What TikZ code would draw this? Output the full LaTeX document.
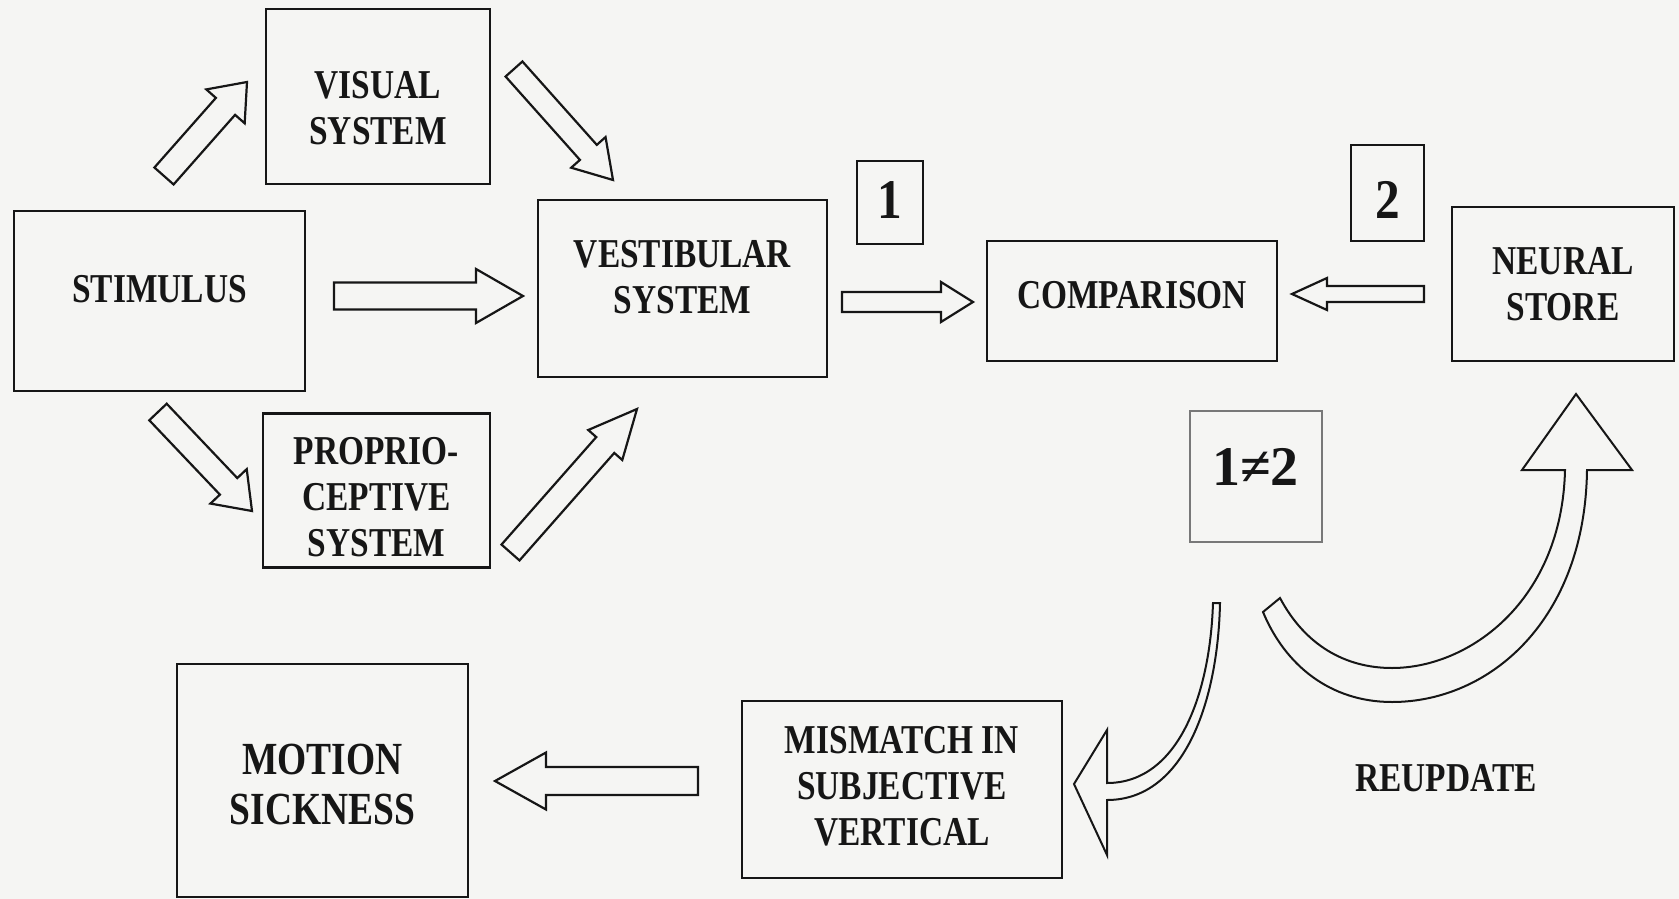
\documentclass[tikz,border=0pt]{standalone}
\usepackage{fontspec}
\newfontfamily\lbl[FakeStretch=0.815]{Liberation Serif}
\newfontfamily\numf[FakeStretch=0.88]{Liberation Serif}
\newfontfamily\numw{Liberation Serif}
\usetikzlibrary{calc}
\definecolor{paper}{RGB}{245,245,243}
\definecolor{ink}{RGB}{22,22,22}
\definecolor{lightink}{RGB}{120,120,120}
\tikzset{
  box/.style={draw=ink, line width=2.6pt, rectangle, inner sep=0pt},
  lab/.style={text=ink, align=center, inner sep=0pt, font=\lbl\bfseries\fontsize{41}{46}\selectfont},
  numlab/.style={lab, font=\numf\bfseries\fontsize{56}{60}\selectfont},
  neqlab/.style={lab, font=\numw\bfseries\fontsize{56}{60}\selectfont},
  biglab/.style={lab, font=\lbl\bfseries\fontsize{46}{50}\selectfont},
  blk/.style={draw=ink, line width=2.2pt, fill=paper, line join=miter},
  curv/.style={draw=ink, line width=2pt, fill=paper, line join=miter},
}
% tail, tip, shaft half width, head half width, head length
\newcommand{\blockarrow}[5]{%
  \coordinate (bh) at ($(#2)!#5!(#1)$);
  \draw[blk] ($(#1)!#3!90:(#2)$) -- ($(bh)!#3!-90:(#1)$) -- ($(bh)!#4!-90:(#1)$) -- (#2)
     -- ($(bh)!#4!90:(#1)$) -- ($(bh)!#3!90:(#1)$) -- ($(#1)!#3!-90:(#2)$) -- cycle;
}
\begin{document}
\begin{tikzpicture}[x=1pt,y=-1pt]
\fill[paper] (0,0) rectangle (1679,899);
\useasboundingbox (0,0) rectangle (1679,899);

% boxes
\node[box, minimum width=224pt, minimum height=175pt] (visual) at (378,96.5) {};
\node[box, minimum width=291pt, minimum height=180pt] (stim) at (159.5,301) {};
\node[box, minimum width=289pt, minimum height=177pt] (vest) at (682.5,288.5) {};
\node[box, minimum width=227pt, minimum height=154pt] (prop) at (376.5,490.5) {};
\node[box, minimum width=66pt, minimum height=83pt] (one) at (890,202.5) {};
\node[box, minimum width=290pt, minimum height=120pt] (comp) at (1132,301) {};
\node[box, minimum width=73pt, minimum height=96pt] (two) at (1387.5,193) {};
\node[box, minimum width=222pt, minimum height=154pt] (neural) at (1563,284) {};
\node[box, draw=lightink, line width=2pt, minimum width=132pt, minimum height=131pt] (neq) at (1255.5,476) {};
\node[box, minimum width=291pt, minimum height=233pt] (motion) at (322.5,780.5) {};
\node[box, minimum width=320pt, minimum height=177pt] (mism) at (902,789.5) {};

% texts
\node[lab] (visualT) at ($(visual.center)+(0,12)$) {VISUAL\\SYSTEM};
\node[lab] (stimT) at ($(stim.center)+(0,-12)$) {STIMULUS};
\node[lab] (vestT) at ($(vest.center)+(0,-11)$) {VESTIBULAR\\SYSTEM};
\node[lab] (propT) at ($(prop.center)+(0,7)$) {PROPRIO-\\CEPTIVE\\SYSTEM};
\node[numlab] (oneT) at ($(one.center)+(0,-2)$) {1};
\node[lab] (compT) at ($(comp.center)+(0,-6)$) {COMPARISON};
\node[numlab] (twoT) at ($(two.center)+(0,7)$) {2};
\node[lab] (neuralT) at (neural.center) {NEURAL\\STORE};
\node[neqlab] (neqT) at ($(neq.center)+(0,-9)$) {1≠2};
\node[biglab] (motionT) at ($(motion.center)+(0,4)$) {MOTION\\SICKNESS};
\node[lab] (mismT) at ($(mism.center)+(0,-3)$) {MISMATCH IN\\SUBJECTIVE\\VERTICAL};
\node[lab] (reupd) at (1446,778) {REUPDATE};

% arrow end points
\coordinate (a1t) at (164,176);   \coordinate (a1h) at (247,82);
\coordinate (a2t) at (514,69);    \coordinate (a2h) at (613,180);
\coordinate (a3t) at (334,296);   \coordinate (a3h) at (523,296);
\coordinate (a4t) at (842,302);   \coordinate (a4h) at (973,302);
\coordinate (a5t) at (158,412);   \coordinate (a5h) at (252,511);
\coordinate (a6t) at (510.5,552.5); \coordinate (a6h) at (637,409);
\coordinate (a7t) at (1424,294);  \coordinate (a7h) at (1292,294);
\coordinate (a8t) at (698,781);   \coordinate (a8h) at (495,781);

\blockarrow{a1t}{a1h}{12.8pt}{25.6pt}{32.5pt}
\blockarrow{a2t}{a2h}{11.3pt}{23pt}{37pt}
\blockarrow{a3t}{a3h}{13.5pt}{27pt}{47pt}
\blockarrow{a4t}{a4h}{10pt}{20pt}{32pt}
\blockarrow{a5t}{a5h}{12pt}{25pt}{34pt}
\blockarrow{a6t}{a6h}{12pt}{22.7pt}{48pt}
\blockarrow{a7t}{a7h}{8pt}{16pt}{35pt}
\blockarrow{a8t}{a8h}{14pt}{28.5pt}{51pt}

% curved arrow: 1≠2 -> mismatch
\coordinate (m1) at (1213,603);
\coordinate (m2) at (1220,603);
\coordinate (mtip) at (1074,784);
\draw[curv] (m1) .. controls (1210,695) and (1178,783) .. (1107,783) -- (1107,730) -- (mtip)
   -- (1107,855) -- (1107,800) .. controls (1185,800) and (1218,700) .. (m2) -- cycle;

% curved arrow: reupdate -> neural store
\coordinate (r1) at (1280,598);
\coordinate (r2) at (1263,612);
\coordinate (rtip) at (1576,394);
\draw[curv] (r1) .. controls (1305,645) and (1345,668) .. (1392,668)
   .. controls (1470,668) and (1562,600) .. (1565,470) -- (1522,470) -- (rtip) -- (1632,470)
   -- (1587,470) .. controls (1585,620) and (1490,702) .. (1392,702)
   .. controls (1330,702) and (1285,665) .. (r2) -- cycle;
\end{tikzpicture}
\end{document}
